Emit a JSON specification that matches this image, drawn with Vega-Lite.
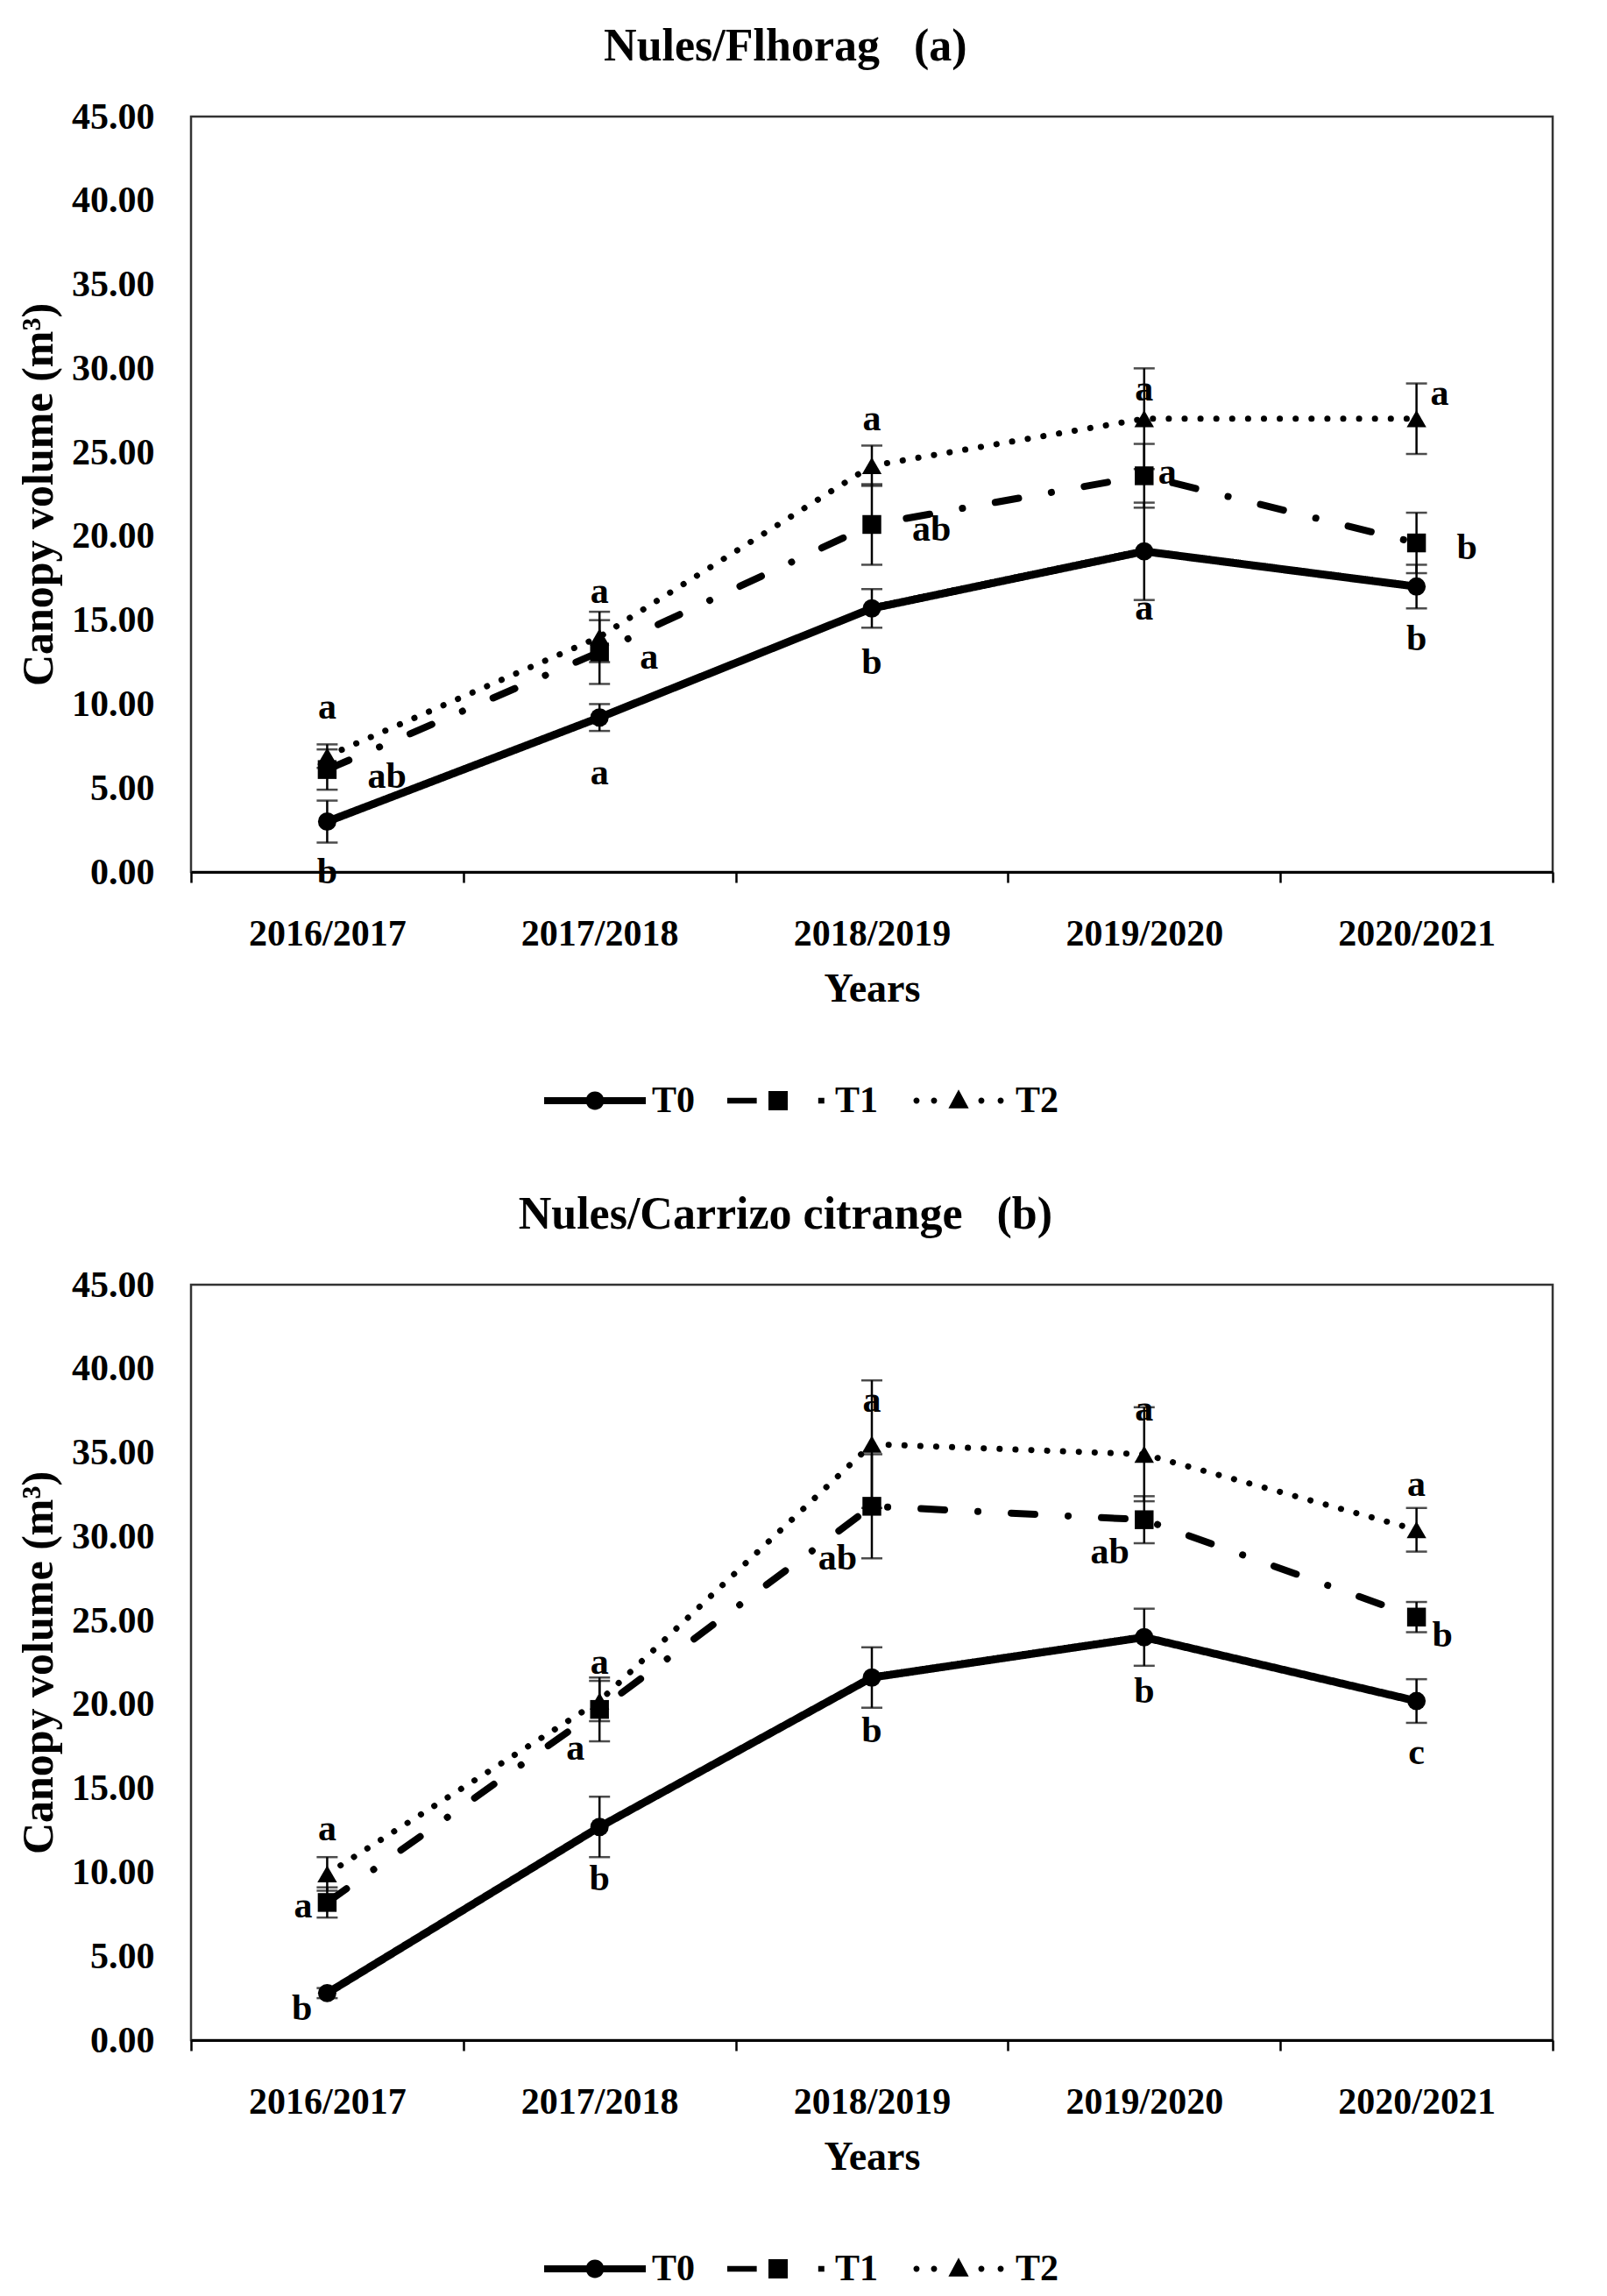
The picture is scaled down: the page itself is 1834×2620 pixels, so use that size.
{
  "$schema": "https://vega.github.io/schema/vega-lite/v6.json",
  "background": "white",
  "padding": {"left": 18, "top": 25, "right": 10, "bottom": 5},
  "spacing": 79,
  "datasets": {
    "means": [
      {"panel": "a", "year": "2016/2017", "treatment": "T0", "mean": 3.0, "se": 1.25},
      {"panel": "a", "year": "2016/2017", "treatment": "T1", "mean": 6.1, "se": 1.2},
      {"panel": "a", "year": "2016/2017", "treatment": "T2", "mean": 6.9, "se": 0.7},
      {"panel": "a", "year": "2017/2018", "treatment": "T0", "mean": 9.2, "se": 0.8},
      {"panel": "a", "year": "2017/2018", "treatment": "T1", "mean": 13.1, "se": 1.9},
      {"panel": "a", "year": "2017/2018", "treatment": "T2", "mean": 14.0, "se": 1.5},
      {"panel": "a", "year": "2018/2019", "treatment": "T0", "mean": 15.7, "se": 1.15},
      {"panel": "a", "year": "2018/2019", "treatment": "T1", "mean": 20.7, "se": 2.4},
      {"panel": "a", "year": "2018/2019", "treatment": "T2", "mean": 24.2, "se": 1.2},
      {"panel": "a", "year": "2019/2020", "treatment": "T0", "mean": 19.1, "se": 2.9},
      {"panel": "a", "year": "2019/2020", "treatment": "T1", "mean": 23.6, "se": 1.9},
      {"panel": "a", "year": "2019/2020", "treatment": "T2", "mean": 27.0, "se": 3.0},
      {"panel": "a", "year": "2020/2021", "treatment": "T0", "mean": 17.0, "se": 1.3},
      {"panel": "a", "year": "2020/2021", "treatment": "T1", "mean": 19.6, "se": 1.8},
      {"panel": "a", "year": "2020/2021", "treatment": "T2", "mean": 27.0, "se": 2.1},
      {"panel": "b", "year": "2016/2017", "treatment": "T0", "mean": 2.8, "se": 0.3},
      {"panel": "b", "year": "2016/2017", "treatment": "T1", "mean": 8.2, "se": 0.9},
      {"panel": "b", "year": "2016/2017", "treatment": "T2", "mean": 9.9, "se": 1.0},
      {"panel": "b", "year": "2017/2018", "treatment": "T0", "mean": 12.7, "se": 1.8},
      {"panel": "b", "year": "2017/2018", "treatment": "T1", "mean": 19.7, "se": 1.9},
      {"panel": "b", "year": "2017/2018", "treatment": "T2", "mean": 20.2, "se": 1.2},
      {"panel": "b", "year": "2018/2019", "treatment": "T0", "mean": 21.6, "se": 1.8},
      {"panel": "b", "year": "2018/2019", "treatment": "T1", "mean": 31.8, "se": 3.1},
      {"panel": "b", "year": "2018/2019", "treatment": "T2", "mean": 35.5, "se": 3.8},
      {"panel": "b", "year": "2019/2020", "treatment": "T0", "mean": 24.0, "se": 1.7},
      {"panel": "b", "year": "2019/2020", "treatment": "T1", "mean": 31.0, "se": 1.4},
      {"panel": "b", "year": "2019/2020", "treatment": "T2", "mean": 34.9, "se": 2.8},
      {"panel": "b", "year": "2020/2021", "treatment": "T0", "mean": 20.2, "se": 1.3},
      {"panel": "b", "year": "2020/2021", "treatment": "T1", "mean": 25.2, "se": 0.9},
      {"panel": "b", "year": "2020/2021", "treatment": "T2", "mean": 30.4, "se": 1.3}
    ],
    "letters_centre": [
      {"panel": "a", "year": "2016/2017", "treatment": "T2", "letter": "a", "at": 9.8},
      {"panel": "a", "year": "2016/2017", "treatment": "T0", "letter": "b", "at": 0.0},
      {"panel": "a", "year": "2017/2018", "treatment": "T2", "letter": "a", "at": 16.7},
      {"panel": "a", "year": "2017/2018", "treatment": "T0", "letter": "a", "at": 5.9},
      {"panel": "a", "year": "2018/2019", "treatment": "T2", "letter": "a", "at": 27.0},
      {"panel": "a", "year": "2018/2019", "treatment": "T0", "letter": "b", "at": 12.5},
      {"panel": "a", "year": "2019/2020", "treatment": "T2", "letter": "a", "at": 28.75},
      {"panel": "a", "year": "2019/2020", "treatment": "T0", "letter": "a", "at": 15.7},
      {"panel": "a", "year": "2020/2021", "treatment": "T0", "letter": "b", "at": 13.9},
      {"panel": "b", "year": "2016/2017", "treatment": "T2", "letter": "a", "at": 12.6},
      {"panel": "b", "year": "2017/2018", "treatment": "T2", "letter": "a", "at": 22.5},
      {"panel": "b", "year": "2017/2018", "treatment": "T0", "letter": "b", "at": 9.6},
      {"panel": "b", "year": "2018/2019", "treatment": "T2", "letter": "a", "at": 38.1},
      {"panel": "b", "year": "2018/2019", "treatment": "T0", "letter": "b", "at": 18.45},
      {"panel": "b", "year": "2019/2020", "treatment": "T2", "letter": "a", "at": 37.6},
      {"panel": "b", "year": "2019/2020", "treatment": "T0", "letter": "b", "at": 20.8},
      {"panel": "b", "year": "2020/2021", "treatment": "T2", "letter": "a", "at": 33.1},
      {"panel": "b", "year": "2020/2021", "treatment": "T0", "letter": "c", "at": 17.1}
    ],
    "letters_right": [
      {"panel": "a", "year": "2016/2017", "treatment": "T1", "letter": "ab", "at": 5.7},
      {"panel": "a", "year": "2017/2018", "treatment": "T1", "letter": "a", "at": 12.8},
      {"panel": "a", "year": "2018/2019", "treatment": "T1", "letter": "ab", "at": 20.4},
      {"panel": "a", "year": "2020/2021", "treatment": "T1", "letter": "b", "at": 19.3}
    ],
    "letters_near": [
      {"panel": "a", "year": "2019/2020", "treatment": "T1", "letter": "a", "at": 23.8},
      {"panel": "a", "year": "2020/2021", "treatment": "T2", "letter": "a", "at": 28.5},
      {"panel": "b", "year": "2020/2021", "treatment": "T1", "letter": "b", "at": 24.1}
    ],
    "letters_left": [
      {"panel": "b", "year": "2016/2017", "treatment": "T1", "letter": "a", "at": 8.0},
      {"panel": "b", "year": "2016/2017", "treatment": "T0", "letter": "b", "at": 1.9},
      {"panel": "b", "year": "2017/2018", "treatment": "T1", "letter": "a", "at": 17.4},
      {"panel": "b", "year": "2018/2019", "treatment": "T1", "letter": "ab", "at": 28.7},
      {"panel": "b", "year": "2019/2020", "treatment": "T1", "letter": "ab", "at": 29.1}
    ]
  },
  "config": {
    "font": "Liberation Serif",
    "view": {"stroke": "#333333", "strokeWidth": 2.5},
    "title": {"font": "Liberation Serif", "fontSize": 52, "fontWeight": "bold", "color": "black", "anchor": "middle", "frame": "bounds", "offset": 32},
    "axis": {"labelFont": "Liberation Serif", "labelFontSize": 42, "labelFontWeight": "bold", "labelColor": "black", "titleFont": "Liberation Serif", "titleFontWeight": "bold", "titleColor": "black", "grid": false},
    "axisX": {"tickBand": "extent", "labelAngle": 0, "tickSize": 12, "tickWidth": 2.5, "tickColor": "black", "domainColor": "black", "domainWidth": 3, "labelPadding": 38, "titlePadding": 20, "titleFontSize": 46},
    "axisY": {"ticks": false, "domain": false, "labelPadding": 42, "titlePadding": 12, "titleFontSize": 50},
    "legend": {"labelFont": "Liberation Serif", "labelFontSize": 42, "labelFontWeight": "bold", "labelColor": "black"}
  },
  "resolve": {"scale": {"shape": "independent"}, "legend": {"shape": "independent"}},
  "vconcat": [
    {
      "title": "Nules/Flhorag\u00a0\u00a0\u00a0(a)",
      "width": 1554,
      "height": 862,
      "layer": [
        {
          "data": {"name": "means"},
          "transform": [{"filter": "datum.panel === 'a'"}],
          "mark": {"type": "line", "strokeCap": "round", "strokeJoin": "round", "color": "black"},
          "encoding": {
            "x": {"field": "year", "type": "nominal", "title": "Years", "scale": {"type": "band", "paddingInner": 0, "paddingOuter": 0}},
            "y": {"field": "mean", "type": "quantitative", "title": "Canopy volume (m³)", "scale": {"domain": [0, 45], "nice": false}, "axis": {"format": ".2f", "values": [0, 5, 10, 15, 20, 25, 30, 35, 40, 45]}},
            "strokeDash": {"field": "treatment", "type": "nominal", "scale": {"domain": ["T0", "T1", "T2"], "range": [[1, 0], [27, 38, 0.1, 38], [0.1, 18]]}, "legend": null},
            "strokeWidth": {"field": "treatment", "type": "ordinal", "scale": {"domain": ["T0", "T1", "T2"], "range": [9, 7, 7]}, "legend": null}
          }
        },
        {
          "data": {"name": "means"},
          "transform": [{"filter": "datum.panel === 'a'"}],
          "mark": {"type": "errorbar", "color": "black", "thickness": 2.5, "ticks": {"size": 24, "thickness": 2.5, "color": "black"}, "rule": {"strokeWidth": 2.5, "color": "black"}},
          "encoding": {
            "x": {"field": "year", "type": "nominal", "title": "Years", "scale": {"type": "band", "paddingInner": 0, "paddingOuter": 0}},
            "y": {"field": "mean", "type": "quantitative", "title": "Canopy volume (m³)"},
            "yError": {"field": "se"}
          }
        },
        {
          "data": {"name": "means"},
          "transform": [{"filter": "datum.panel === 'a' && datum.treatment === 'T0'"}],
          "mark": {"type": "point", "shape": "circle", "filled": true, "opacity": 1, "color": "black", "size": 440},
          "encoding": {
            "x": {"field": "year", "type": "nominal", "title": "Years", "scale": {"type": "band", "paddingInner": 0, "paddingOuter": 0}},
            "y": {"field": "mean", "type": "quantitative", "title": "Canopy volume (m³)"}
          }
        },
        {
          "data": {"name": "means"},
          "transform": [{"filter": "datum.panel === 'a' && datum.treatment === 'T1'"}],
          "mark": {"type": "point", "shape": "square", "filled": true, "opacity": 1, "color": "black", "size": 460},
          "encoding": {
            "x": {"field": "year", "type": "nominal", "title": "Years", "scale": {"type": "band", "paddingInner": 0, "paddingOuter": 0}},
            "y": {"field": "mean", "type": "quantitative", "title": "Canopy volume (m³)"}
          }
        },
        {
          "data": {"name": "means"},
          "transform": [{"filter": "datum.panel === 'a' && datum.treatment === 'T2'"}],
          "mark": {"type": "point", "shape": "triangle-up", "filled": true, "opacity": 1, "color": "black", "size": 500},
          "encoding": {
            "x": {"field": "year", "type": "nominal", "title": "Years", "scale": {"type": "band", "paddingInner": 0, "paddingOuter": 0}},
            "y": {"field": "mean", "type": "quantitative", "title": "Canopy volume (m³)"}
          }
        },
        {
          "data": {"name": "means"},
          "transform": [{"filter": "datum.panel === 'a'"}],
          "mark": {"type": "point", "filled": true, "opacity": 0, "color": "black"},
          "encoding": {
            "x": {"field": "year", "type": "nominal", "title": "Years", "scale": {"type": "band", "paddingInner": 0, "paddingOuter": 0}},
            "y": {"field": "mean", "type": "quantitative", "title": "Canopy volume (m³)"},
            "shape": {
              "field": "treatment", "type": "nominal",
              "scale": {"domain": ["T0", "T1", "T2"], "range": [
                "M-1,-0.07H1V0.07H-1ZM-0.18,0A0.18,0.18,0,1,1,0.18,0A0.18,0.18,0,1,1,-0.18,0Z",
                "M-1,-0.055H-0.42V0.055H-1ZM0.79,-0.055H0.91V0.055H0.79ZM-0.19,-0.19H0.19V0.19H-0.19Z",
                "M-0.888,0A0.06,0.06,0,1,1,-0.768,0A0.06,0.06,0,1,1,-0.888,0ZM-0.543,0A0.06,0.06,0,1,1,-0.423,0A0.06,0.06,0,1,1,-0.543,0ZM0.388,0A0.06,0.06,0,1,1,0.508,0A0.06,0.06,0,1,1,0.388,0ZM0.768,0A0.06,0.06,0,1,1,0.888,0A0.06,0.06,0,1,1,0.768,0ZM0,-0.22L0.2,0.15H-0.2Z"
              ]},
              "legend": {
                "title": null, "orient": "none", "legendX": 402, "legendY": 1064, "direction": "horizontal",
                "symbolSize": 13456, "symbolOpacity": 1, "symbolFillColor": "black", "symbolStrokeColor": "black", "symbolStrokeWidth": 2,
                "labelOffset": 6, "columnPadding": 32, "padding": 0
              }
            }
          }
        },
        {
          "data": {"name": "letters_centre"},
          "transform": [{"filter": "datum.panel === 'a'"}],
          "mark": {"type": "text", "align": "center", "baseline": "middle", "font": "Liberation Serif", "fontSize": 42, "fontWeight": "bold", "color": "black"},
          "encoding": {
            "x": {"field": "year", "type": "nominal", "title": "Years", "scale": {"type": "band", "paddingInner": 0, "paddingOuter": 0}},
            "y": {"field": "at", "type": "quantitative", "title": "Canopy volume (m³)"},
            "text": {"field": "letter"}
          }
        },
        {
          "data": {"name": "letters_right"},
          "transform": [{"filter": "datum.panel === 'a'"}],
          "mark": {"type": "text", "align": "left", "dx": 46, "baseline": "middle", "font": "Liberation Serif", "fontSize": 42, "fontWeight": "bold", "color": "black"},
          "encoding": {
            "x": {"field": "year", "type": "nominal", "title": "Years", "scale": {"type": "band", "paddingInner": 0, "paddingOuter": 0}},
            "y": {"field": "at", "type": "quantitative", "title": "Canopy volume (m³)"},
            "text": {"field": "letter"}
          }
        },
        {
          "data": {"name": "letters_near"},
          "transform": [{"filter": "datum.panel === 'a'"}],
          "mark": {"type": "text", "align": "left", "dx": 16, "baseline": "middle", "font": "Liberation Serif", "fontSize": 42, "fontWeight": "bold", "color": "black"},
          "encoding": {
            "x": {"field": "year", "type": "nominal", "title": "Years", "scale": {"type": "band", "paddingInner": 0, "paddingOuter": 0}},
            "y": {"field": "at", "type": "quantitative", "title": "Canopy volume (m³)"},
            "text": {"field": "letter"}
          }
        }
      ]
    },
    {
      "title": "Nules/Carrizo citrange\u00a0\u00a0\u00a0(b)",
      "width": 1554,
      "height": 862,
      "layer": [
        {
          "data": {"name": "means"},
          "transform": [{"filter": "datum.panel === 'b'"}],
          "mark": {"type": "line", "strokeCap": "round", "strokeJoin": "round", "color": "black"},
          "encoding": {
            "x": {"field": "year", "type": "nominal", "title": "Years", "scale": {"type": "band", "paddingInner": 0, "paddingOuter": 0}},
            "y": {"field": "mean", "type": "quantitative", "title": "Canopy volume (m³)", "scale": {"domain": [0, 45], "nice": false}, "axis": {"format": ".2f", "values": [0, 5, 10, 15, 20, 25, 30, 35, 40, 45]}},
            "strokeDash": {"field": "treatment", "type": "nominal", "scale": {"domain": ["T0", "T1", "T2"], "range": [[1, 0], [27, 38, 0.1, 38], [0.1, 18]]}, "legend": null},
            "strokeWidth": {"field": "treatment", "type": "ordinal", "scale": {"domain": ["T0", "T1", "T2"], "range": [9, 7, 7]}, "legend": null}
          }
        },
        {
          "data": {"name": "means"},
          "transform": [{"filter": "datum.panel === 'b'"}],
          "mark": {"type": "errorbar", "color": "black", "thickness": 2.5, "ticks": {"size": 24, "thickness": 2.5, "color": "black"}, "rule": {"strokeWidth": 2.5, "color": "black"}},
          "encoding": {
            "x": {"field": "year", "type": "nominal", "title": "Years", "scale": {"type": "band", "paddingInner": 0, "paddingOuter": 0}},
            "y": {"field": "mean", "type": "quantitative", "title": "Canopy volume (m³)"},
            "yError": {"field": "se"}
          }
        },
        {
          "data": {"name": "means"},
          "transform": [{"filter": "datum.panel === 'b' && datum.treatment === 'T0'"}],
          "mark": {"type": "point", "shape": "circle", "filled": true, "opacity": 1, "color": "black", "size": 440},
          "encoding": {
            "x": {"field": "year", "type": "nominal", "title": "Years", "scale": {"type": "band", "paddingInner": 0, "paddingOuter": 0}},
            "y": {"field": "mean", "type": "quantitative", "title": "Canopy volume (m³)"}
          }
        },
        {
          "data": {"name": "means"},
          "transform": [{"filter": "datum.panel === 'b' && datum.treatment === 'T1'"}],
          "mark": {"type": "point", "shape": "square", "filled": true, "opacity": 1, "color": "black", "size": 460},
          "encoding": {
            "x": {"field": "year", "type": "nominal", "title": "Years", "scale": {"type": "band", "paddingInner": 0, "paddingOuter": 0}},
            "y": {"field": "mean", "type": "quantitative", "title": "Canopy volume (m³)"}
          }
        },
        {
          "data": {"name": "means"},
          "transform": [{"filter": "datum.panel === 'b' && datum.treatment === 'T2'"}],
          "mark": {"type": "point", "shape": "triangle-up", "filled": true, "opacity": 1, "color": "black", "size": 500},
          "encoding": {
            "x": {"field": "year", "type": "nominal", "title": "Years", "scale": {"type": "band", "paddingInner": 0, "paddingOuter": 0}},
            "y": {"field": "mean", "type": "quantitative", "title": "Canopy volume (m³)"}
          }
        },
        {
          "data": {"name": "means"},
          "transform": [{"filter": "datum.panel === 'b'"}],
          "mark": {"type": "point", "filled": true, "opacity": 0, "color": "black"},
          "encoding": {
            "x": {"field": "year", "type": "nominal", "title": "Years", "scale": {"type": "band", "paddingInner": 0, "paddingOuter": 0}},
            "y": {"field": "mean", "type": "quantitative", "title": "Canopy volume (m³)"},
            "shape": {
              "field": "treatment", "type": "nominal",
              "scale": {"domain": ["T0", "T1", "T2"], "range": [
                "M-1,-0.07H1V0.07H-1ZM-0.18,0A0.18,0.18,0,1,1,0.18,0A0.18,0.18,0,1,1,-0.18,0Z",
                "M-1,-0.055H-0.42V0.055H-1ZM0.79,-0.055H0.91V0.055H0.79ZM-0.19,-0.19H0.19V0.19H-0.19Z",
                "M-0.888,0A0.06,0.06,0,1,1,-0.768,0A0.06,0.06,0,1,1,-0.888,0ZM-0.543,0A0.06,0.06,0,1,1,-0.423,0A0.06,0.06,0,1,1,-0.543,0ZM0.388,0A0.06,0.06,0,1,1,0.508,0A0.06,0.06,0,1,1,0.388,0ZM0.768,0A0.06,0.06,0,1,1,0.888,0A0.06,0.06,0,1,1,0.768,0ZM0,-0.22L0.2,0.15H-0.2Z"
              ]},
              "legend": {
                "title": null, "orient": "none", "legendX": 402, "legendY": 1064, "direction": "horizontal",
                "symbolSize": 13456, "symbolOpacity": 1, "symbolFillColor": "black", "symbolStrokeColor": "black", "symbolStrokeWidth": 2,
                "labelOffset": 6, "columnPadding": 32, "padding": 0
              }
            }
          }
        },
        {
          "data": {"name": "letters_centre"},
          "transform": [{"filter": "datum.panel === 'b'"}],
          "mark": {"type": "text", "align": "center", "baseline": "middle", "font": "Liberation Serif", "fontSize": 42, "fontWeight": "bold", "color": "black"},
          "encoding": {
            "x": {"field": "year", "type": "nominal", "title": "Years", "scale": {"type": "band", "paddingInner": 0, "paddingOuter": 0}},
            "y": {"field": "at", "type": "quantitative", "title": "Canopy volume (m³)"},
            "text": {"field": "letter"}
          }
        },
        {
          "data": {"name": "letters_near"},
          "transform": [{"filter": "datum.panel === 'b'"}],
          "mark": {"type": "text", "align": "left", "dx": 18, "baseline": "middle", "font": "Liberation Serif", "fontSize": 42, "fontWeight": "bold", "color": "black"},
          "encoding": {
            "x": {"field": "year", "type": "nominal", "title": "Years", "scale": {"type": "band", "paddingInner": 0, "paddingOuter": 0}},
            "y": {"field": "at", "type": "quantitative", "title": "Canopy volume (m³)"},
            "text": {"field": "letter"}
          }
        },
        {
          "data": {"name": "letters_left"},
          "transform": [{"filter": "datum.panel === 'b'"}],
          "mark": {"type": "text", "align": "right", "dx": -17, "baseline": "middle", "font": "Liberation Serif", "fontSize": 42, "fontWeight": "bold", "color": "black"},
          "encoding": {
            "x": {"field": "year", "type": "nominal", "title": "Years", "scale": {"type": "band", "paddingInner": 0, "paddingOuter": 0}},
            "y": {"field": "at", "type": "quantitative", "title": "Canopy volume (m³)"},
            "text": {"field": "letter"}
          }
        }
      ]
    }
  ]
}
